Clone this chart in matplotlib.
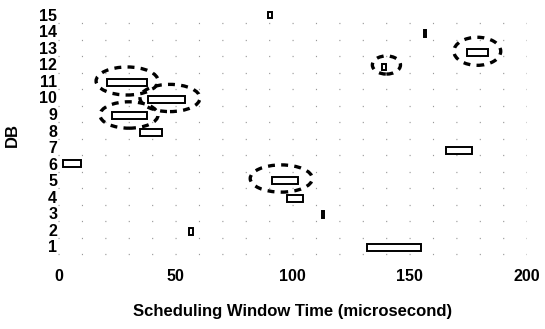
import matplotlib
matplotlib.use("Agg")
import matplotlib.pyplot as plt
from matplotlib.patches import Rectangle, Ellipse
import numpy as np

plt.rcParams['font.family'] = ['Liberation Sans', 'DejaVu Sans']
plt.rcParams['font.weight'] = 'bold'
plt.rcParams['lines.scale_dashes'] = False

# one busy window per DB (start, end in microseconds, lane position as read)
db = [1, 2, 3, 4, 5, 6, 7, 8, 9, 10, 11, 12, 13, 14, 15]
win_start = [131.8, 55.8, 112.6, 97.6, 91.2, 1.8, 165.6, 34.8, 22.9, 38.2, 20.7, 138.2, 174.6, 156.2, 89.4]
win_end = [154.9, 57.5, 113.5, 104.5, 102.3, 9.6, 176.7, 44.2, 37.8, 54.1, 37.8, 139.9, 183.5, 156.8, 91.0]
lane_y = [0.9, 1.9, 2.9, 3.9, 4.95, 6.0, 6.8, 7.9, 8.9, 9.9, 10.9, 11.85, 12.75, 13.9, 15.0]

# dashed highlight rings: centre x, centre y, width, height (data units)
ring_x = [29.3, 47.6, 30.1, 95.1, 140.0, 178.8]
ring_y = [11.0, 9.97, 8.94, 5.09, 11.97, 12.8]
ring_w = [26.5, 25.6, 24.8, 26.5, 12, 20]
ring_h = [1.7, 1.65, 1.6, 1.65, 1.1, 1.7]

xticks = [0, 50, 100, 150, 200]


def main():
    fig = plt.figure(figsize=(5.45, 3.29), dpi=100)
    ax = fig.add_axes([0.1073, 0.2021, 0.8596, 0.7774])

    bar_h = 0.42
    for s, e, y in zip(win_start, win_end, lane_y):
        ax.add_patch(Rectangle((s, y - bar_h / 2), e - s, bar_h,
                               facecolor='white', edgecolor='black', lw=1.4, zorder=3))

    for cx, cy, w, h in zip(ring_x, ring_y, ring_w, ring_h):
        ax.add_patch(Ellipse((cx, cy), w, h, fill=False, edgecolor='black',
                             lw=2.4, linestyle=(0, (5, 4.5)), zorder=4))

    ax.set_xlim(0, 200)
    ax.set_ylim(0, 15.5)
    ax.set_xticks(xticks)
    ax.set_yticks(db)
    ax.set_yticks(np.arange(0.5, 15, 1.0), minor=True)
    ax.tick_params(axis='both', which='both', length=0, labelsize=11.5)
    ax.tick_params(axis='x', pad=5)
    ax.tick_params(axis='y', pad=1)
    ax.grid(which='minor', axis='y', color='0.6', lw=0.9,
            linestyle=(0, (0.8, 16.05)))
    for sp in ax.spines.values():
        sp.set_visible(False)

    ax.set_xlabel("Scheduling Window Time (microsecond)", fontsize=12,
                  fontweight='bold', labelpad=14)
    ax.set_ylabel("DB", fontsize=12, fontweight='bold', labelpad=14)

    fig.savefig("out.png", dpi=100)


if __name__ == "__main__":
    main()
